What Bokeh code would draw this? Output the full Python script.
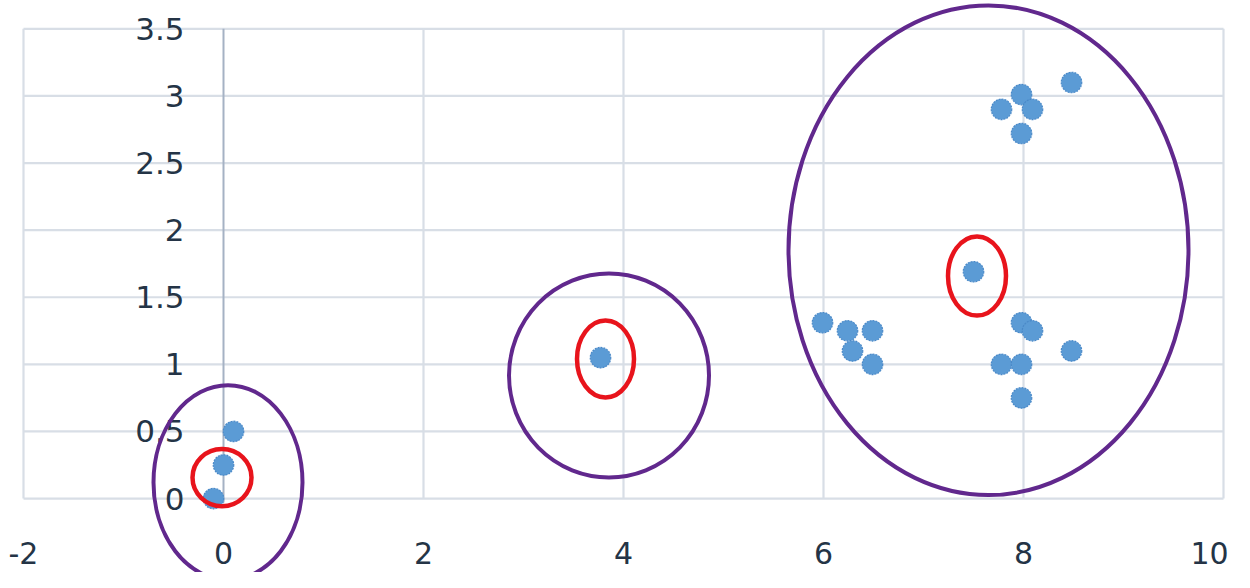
from bokeh.plotting import figure
from bokeh.models import Range1d, ColumnDataSource
from bokeh.core.properties import value
from bokeh.embed import file_html
from bokeh.resources import INLINE

# ---- data ----
pt_x = [-0.1, 0.0, 0.1, 3.77, 8.48, 7.98, 7.78, 8.09, 7.98, 7.5,
        5.99, 6.24, 6.49, 6.29, 6.49, 7.98, 8.09, 7.78, 7.98, 8.48, 7.98]
pt_y = [0.0, 0.25, 0.5, 1.05, 3.1, 3.01, 2.9, 2.9, 2.72, 1.69,
        1.31, 1.25, 1.25, 1.1, 1.0, 1.31, 1.25, 1.0, 1.0, 1.1, 0.75]

cluster_x = [0.045, 3.855, 7.65]
cluster_y = [0.12, 0.917, 1.85]
cluster_w = [1.49, 2.0, 4.0]
cluster_h = [1.45, 1.52, 3.65]

center_x = [-0.015, 3.82, 7.535]
center_y = [0.156, 1.04, 1.658]
center_w = [0.59, 0.57, 0.58]
center_h = [0.425, 0.574, 0.59]

x_ticks = [-2, 0, 2, 4, 6, 8, 10]
x_labels = ["-2", "0", "2", "4", "6", "8", "10"]
y_ticks = [0, 0.5, 1, 1.5, 2, 2.5, 3, 3.5]
y_labels = ["0", "0.5", "1", "1.5", "2", "2.5", "3", "3.5"]

# ---- figure ----
p = figure(width=1234, height=572, output_backend="svg", toolbar_location=None,
           x_range=Range1d(-2.23, 10.11), y_range=Range1d(-0.551, 3.711),
           min_border=0)
p.axis.visible = False
p.grid.visible = False
p.outline_line_color = None
p.background_fill_color = "white"

grid_col = "#D8DEE6"
xmin, xmax = min(x_ticks), max(x_ticks)
ymin, ymax = min(y_ticks), max(y_ticks)

# horizontal grid
p.segment(x0=[xmin] * len(y_ticks), x1=[xmax] * len(y_ticks), y0=y_ticks, y1=y_ticks,
          line_color=grid_col, line_width=2.2)
# vertical grid (skip x=0, drawn as axis line)
vx = [t for t in x_ticks if t != 0]
p.segment(x0=vx, x1=vx, y0=[ymin] * len(vx), y1=[ymax] * len(vx),
          line_color=grid_col, line_width=2.2)
# y axis line at x=0
p.segment(x0=[0], x1=[0], y0=[ymin - 0.03], y1=[ymax], line_color="#A5B2C4", line_width=2)

txt_col = "#243446"
p.text(x=[0] * len(y_ticks), y=y_ticks, text=y_labels, x_offset=-39,
       text_align="right", text_baseline="middle", text_font=value("DejaVu Sans"),
       text_font_size="31px", text_color=txt_col)

# x tick labels; the last one is nudged inward so it stays inside the canvas
xl_off = [0] * (len(x_ticks) - 1) + [-14]
xsrc = ColumnDataSource(dict(x=x_ticks, y=[-0.405] * len(x_ticks), t=x_labels, off=xl_off))
p.text(x="x", y="y", text="t", x_offset="off", source=xsrc,
       text_align="center", text_baseline="middle", text_font=value("DejaVu Sans"),
       text_font_size="30px", text_color=txt_col)

# points
p.scatter(pt_x, pt_y, size=20.5, fill_color="#5B9BD5", line_color="#4A89C8",
          line_width=1.2, line_dash="2 1")

# ellipses
p.ellipse(x=cluster_x, y=cluster_y, width=cluster_w, height=cluster_h,
          fill_alpha=0, line_color="#61288D", line_width=4)
p.ellipse(x=center_x, y=center_y, width=center_w, height=center_h,
          fill_alpha=0, line_color="#E8141C", line_width=4.5)

open("out.html", "w").write(file_html(p, INLINE))
